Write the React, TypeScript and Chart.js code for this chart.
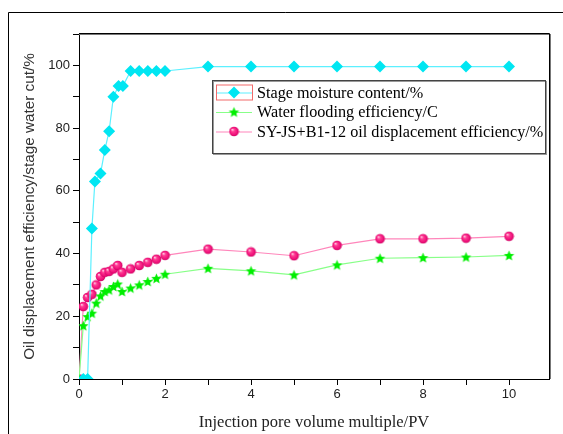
import React, { useEffect, useRef } from "react";
import { Chart, registerables } from "chart.js";

Chart.register(...registerables);

const seriesNames = [
  "Stage moisture content/%",
  "Water flooding efficiency/C",
  "SY-JS+B1-12 oil displacement efficiency/%",
];

const waterCutX = [0.1, 0.2, 0.3, 0.37, 0.5, 0.6, 0.7, 0.8, 0.92, 1.02, 1.2, 1.4, 1.6, 1.8, 2, 3, 4, 5, 6, 7, 8, 9, 10];
const waterCutY = [0, 0, 48, 63, 65.5, 73, 79, 90, 93.4, 93.4, 98.2, 98.2, 98.2, 98.2, 98.2, 99.6, 99.6, 99.6, 99.6, 99.6, 99.6, 99.6, 99.6];

const effX = [0, 0.1, 0.2, 0.3, 0.4, 0.5, 0.6, 0.7, 0.8, 0.9, 1.0, 1.2, 1.4, 1.6, 1.8, 2, 3, 4, 5, 6, 7, 8, 9, 10];
const floodY = [0, 17, 19.9, 21, 24.2, 26.5, 27.9, 28.4, 29.5, 30.3, 27.9, 29, 30, 31.1, 32.1, 33.4, 35.3, 34.5, 33.2, 36.4, 38.5, 38.7, 38.9, 39.4];
const syY = [0, 23.1, 26, 27, 30, 32.7, 34, 34.3, 35.1, 36.2, 34, 35.1, 36.2, 37.2, 38.2, 39.4, 41.4, 40.5, 39.3, 42.6, 44.7, 44.7, 44.9, 45.5];

const xTitle = "Injection pore volume multiple/PV";
const yTitle = "Oil displacement efficiency/stage water cut/%";

const CYAN = "#00e6f2";
const CYAN_LINE = "#5cf0ff";
const GREEN = "#00ee00";
const GREEN_LINE = "#88ff88";
const PINK = "#ee0e78";
const PINK_LINE = "#ff86bb";

const SERIF = "'Liberation Serif', 'Times New Roman', serif";
const SANS = "'Liberation Sans', Arial, sans-serif";

function makeStar(r: number, color: string): HTMLCanvasElement {
  const c = document.createElement("canvas");
  const s = Math.ceil(r * 2 + 2);
  c.width = s;
  c.height = s;
  const ctx = c.getContext("2d")!;
  const cx = s / 2;
  const cy = s / 2 + 0.5;
  ctx.beginPath();
  for (let i = 0; i < 10; i++) {
    const rad = i % 2 === 0 ? r : r * 0.45;
    const a = -Math.PI / 2 + (i * Math.PI) / 5;
    const px = cx + Math.cos(a) * rad;
    const py = cy + Math.sin(a) * rad;
    if (i === 0) ctx.moveTo(px, py);
    else ctx.lineTo(px, py);
  }
  ctx.closePath();
  ctx.fillStyle = color;
  ctx.fill();
  return c;
}

function makeSphere(r: number): HTMLCanvasElement {
  const c = document.createElement("canvas");
  const s = Math.ceil(r * 2 + 1);
  c.width = s;
  c.height = s;
  const ctx = c.getContext("2d")!;
  const cx = s / 2;
  const cy = s / 2;
  const g = ctx.createRadialGradient(cx - r * 0.35, cy - r * 0.4, 0.3, cx, cy, r);
  g.addColorStop(0, "#ffd0e4");
  g.addColorStop(0.3, "#ff3d94");
  g.addColorStop(0.8, PINK);
  g.addColorStop(1, "#c8005e");
  ctx.beginPath();
  ctx.arc(cx, cy, r, 0, Math.PI * 2);
  ctx.fillStyle = g;
  ctx.fill();
  return c;
}

export default function App() {
  const ref = useRef<HTMLCanvasElement | null>(null);

  useEffect(() => {
    const canvas = ref.current;
    if (!canvas) return;
    const star = makeStar(5.5, GREEN);
    const sphere = makeSphere(4.8);

    const framePlugin = {
      id: "framePlugin",
      beforeDraw(chart: any) {
        const ctx = chart.ctx;
        ctx.save();
        ctx.strokeStyle = "#000";
        ctx.lineWidth = 1;
        ctx.beginPath();
        ctx.moveTo(8.5, 434);
        ctx.lineTo(8.5, 12.5);
        ctx.lineTo(563, 12.5);
        ctx.stroke();
        ctx.restore();
      },
      afterDraw(chart: any) {
        const ctx = chart.ctx;
        const a = chart.chartArea;
        ctx.save();
        ctx.strokeStyle = "#777";
        ctx.lineWidth = 1;
        ctx.beginPath();
        ctx.moveTo(a.left, a.top + 0.5);
        ctx.lineTo(a.right + 1.5, a.top + 0.5);
        ctx.moveTo(a.right + 1.5, a.top);
        ctx.lineTo(a.right + 1.5, a.bottom);
        ctx.stroke();
        ctx.strokeStyle = "#000";
        ctx.beginPath();
        ctx.moveTo(a.left, a.top - 0.5);
        ctx.lineTo(a.right + 0.5, a.top - 0.5);
        ctx.lineTo(a.right + 0.5, a.bottom);
        ctx.stroke();

        // legend
        const bx = 212, by = 80, bw = 333, bh = 73;
        ctx.fillStyle = "#fff";
        ctx.fillRect(bx, by, bw, bh);
        ctx.strokeStyle = "#999";
        ctx.strokeRect(bx + 1.5, by + 1.5, bw, bh);
        ctx.strokeStyle = "#444";
        ctx.strokeRect(bx + 0.5, by + 0.5, bw, bh);
        const rows = [92.5, 112, 131.5];
        const lineCols = [CYAN_LINE, GREEN_LINE, PINK_LINE];
        ctx.font = "16.2px " + SERIF;
        ctx.textBaseline = "middle";
        ctx.textAlign = "left";
        rows.forEach((y, i) => {
          ctx.strokeStyle = lineCols[i];
          ctx.lineWidth = 1.2;
          ctx.beginPath();
          ctx.moveTo(216, y + 0.5);
          ctx.lineTo(252, y + 0.5);
          ctx.stroke();
          if (i === 0) {
            ctx.fillStyle = CYAN;
            ctx.beginPath();
            ctx.moveTo(234 - 6, y);
            ctx.lineTo(234, y - 6);
            ctx.lineTo(234 + 6, y);
            ctx.lineTo(234, y + 6);
            ctx.closePath();
            ctx.fill();
            ctx.strokeStyle = "#f26b6b";
            ctx.lineWidth = 1;
            ctx.strokeRect(216.5, y - 7.5, 36, 15);
          } else if (i === 1) {
            ctx.drawImage(star, 234 - star.width / 2, y - star.height / 2);
          } else {
            ctx.drawImage(sphere, 234 - sphere.width / 2, y - sphere.height / 2);
          }
          ctx.fillStyle = "#000";
          ctx.fillText(seriesNames[i], 257, y + 1);
        });
        ctx.restore();
      },
    };

    const chart = new Chart(canvas, {
      type: "line",
      data: {
        datasets: [
          {
            label: seriesNames[0],
            data: waterCutX.map((x, i) => ({ x, y: waterCutY[i] })),
            borderColor: CYAN_LINE,
            backgroundColor: CYAN,
            borderWidth: 1.2,
            pointStyle: "rectRot",
            pointRadius: 6,
            pointBorderWidth: 0,
            pointBackgroundColor: CYAN,
            pointBorderColor: CYAN,
            tension: 0,
          },
          {
            label: seriesNames[1],
            data: effX.map((x, i) => ({ x, y: floodY[i] })),
            borderColor: GREEN_LINE,
            backgroundColor: GREEN,
            borderWidth: 1.2,
            pointStyle: star as any,
            pointRadius: 5,
            tension: 0,
          },
          {
            label: seriesNames[2],
            data: effX.map((x, i) => ({ x, y: syY[i] })),
            borderColor: PINK_LINE,
            backgroundColor: PINK,
            borderWidth: 1.2,
            pointStyle: sphere as any,
            pointRadius: 5,
            tension: 0,
          },
        ],
      },
      options: {
        responsive: false,
        animation: false,
        events: [],
        layout: { padding: { left: 0, top: 34, right: 14, bottom: 0 } },
        plugins: {
          legend: { display: false },
          tooltip: { enabled: false },
        },
        scales: {
          x: {
            type: "linear",
            min: 0,
            max: 10.93,
            afterFit: (s: any) => {
              s.height = 55;
            },
            ticks: {
              stepSize: 1,
              includeBounds: false,
              autoSkip: false,
              maxRotation: 0,
              padding: 2,
              color: "#222",
              font: { family: SANS, size: 13 },
              callback: (v: any) => (Number(v) % 2 === 0 ? String(v) : ""),
            },
            grid: {
              drawOnChartArea: false,
              drawTicks: true,
              tickLength: 6,
              color: "#000",
            },
            border: { display: true, color: "#000", width: 1 },
            title: {
              display: true,
              text: xTitle,
              color: "#222",
              font: { family: SERIF, size: 16.5, lineHeight: 1.2 },
              padding: { top: 0, bottom: 1 },
            },
          },
          y: {
            type: "linear",
            min: 0,
            max: 110,
            afterFit: (s: any) => {
              s.width = 79;
            },
            ticks: {
              stepSize: 10,
              includeBounds: false,
              autoSkip: false,
              padding: 3,
              color: "#222",
              font: { family: SANS, size: 13 },
              callback: (v: any) => (Number(v) % 20 === 0 ? String(v) : ""),
            },
            grid: {
              drawOnChartArea: false,
              drawTicks: true,
              tickLength: 6,
              color: "#000",
            },
            border: { display: true, color: "#000", width: 1 },
            title: {
              display: true,
              text: yTitle,
              color: "#333",
              font: { family: SANS, size: 15.3, lineHeight: 1.2 },
              padding: { top: 21, bottom: 0 },
            },
          },
        },
      },
      plugins: [framePlugin],
    } as any);

    return () => {
      chart.destroy();
    };
  }, []);

  return (
    <div style={{ position: "fixed", left: 0, top: 0, width: 563, height: 434, background: "#fff" }}>
      <canvas ref={ref} width={563} height={434} style={{ display: "block" }} />
    </div>
  );
}
